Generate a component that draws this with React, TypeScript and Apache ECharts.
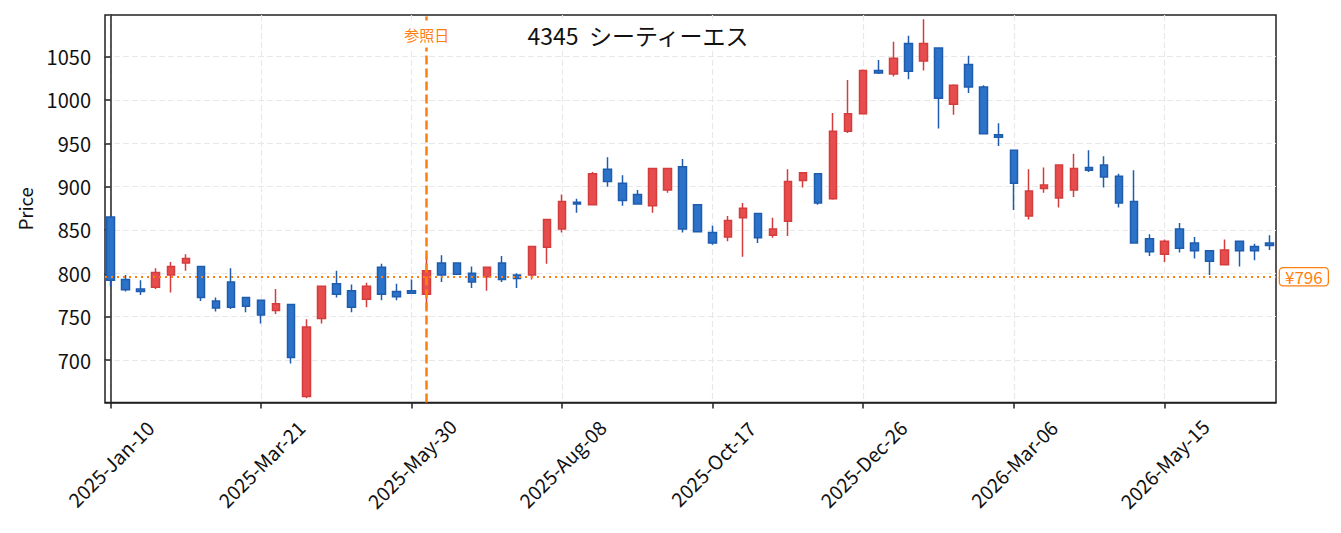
import React, { useEffect, useRef } from "react";
import * as echarts from "echarts";

const FONT = "'Noto Sans CJK JP', 'Noto Sans', sans-serif";

const chartTitle = "4345  シーティーエス";
const refLabel = "参照日";
const refIndex = 21;
const refPrice = 796;

const tickIndex = [0, 10, 20, 30, 40, 50, 60, 70];
const tickLabels = [
  "2025-Jan-10",
  "2025-Mar-21",
  "2025-May-30",
  "2025-Aug-08",
  "2025-Oct-17",
  "2025-Dec-26",
  "2026-Mar-06",
  "2026-May-15",
];
const priceTicks = [700, 750, 800, 850, 900, 950, 1000, 1050];

const opens = [
  865, 793, 782, 784, 798, 812, 808, 768, 790, 772,
  769, 757, 764, 658, 748, 788, 780, 770, 807, 779,
  780, 776, 812, 812, 800, 796, 812, 798, 798, 830,
  851, 882, 879, 920, 904, 891, 878, 896, 923, 879,
  847, 842, 864, 869, 844, 860, 907, 915, 886, 964,
  984, 1034, 1030, 1065, 1045, 1060, 995, 1041, 1015, 960,
  942, 866, 898, 887, 896, 922, 925, 912, 883, 840,
  822, 851, 835, 826, 810, 837, 831, 835,
];
const closes = [
  792, 781, 779, 801, 808, 817, 772, 760, 761, 762,
  752, 765, 703, 738, 785, 776, 761, 785, 776, 773,
  777, 803, 798, 799, 790, 807, 793, 794, 831, 862,
  883, 880, 915, 906, 884, 880, 921, 921, 851, 848,
  835, 861, 875, 841, 851, 906, 916, 881, 964, 984,
  1034, 1031, 1048, 1033, 1065, 1002, 1017, 1015, 961, 957,
  904, 895, 902, 925, 921, 919, 911, 881, 835, 825,
  837, 829, 826, 814, 827, 826, 826, 832,
];
const lows = [
  785, 779, 775, 782, 778, 803, 768, 756, 759, 755,
  742, 753, 696, 656, 742, 772, 755, 761, 769, 769,
  777, 758, 790, 799, 783, 780, 790, 783, 793, 811,
  847, 870, 879, 900, 878, 880, 870, 893, 847, 848,
  833, 837, 819, 835, 841, 843, 899, 879, 885, 962,
  984, 1030, 1027, 1024, 1034, 967, 983, 1008, 961, 947,
  873, 862, 893, 876, 888, 917, 899, 876, 835, 820,
  813, 824, 817, 798, 810, 808, 815, 827,
];
const highs = [
  865, 798, 792, 806, 813, 822, 808, 772, 806, 772,
  769, 782, 764, 747, 785, 803, 787, 789, 811, 788,
  793, 820, 821, 812, 808, 808, 820, 800, 831, 862,
  891, 886, 917, 934, 913, 896, 921, 921, 932, 879,
  855, 866, 881, 869, 864, 920, 916, 915, 985, 1023,
  1035, 1046, 1067, 1074, 1093, 1060, 1018, 1051, 1017, 973,
  942, 920, 922, 925, 938, 942, 935, 915, 919, 845,
  839, 858, 842, 826, 839, 837, 834, 844,
];

const ORANGE = "#ff7f0e";

export default function App() {
  const ref = useRef<HTMLDivElement>(null);

  useEffect(() => {
    if (!ref.current) return;
    const chart = echarts.init(ref.current, null, { renderer: "svg" });
    const data = opens.map((o, i) => [i, o, closes[i], lows[i], highs[i]]);

    chart.setOption({
      animation: false,
      backgroundColor: "#ffffff",
      textStyle: { fontFamily: FONT },
      title: {
        text: chartTitle,
        left: 632,
        top: 19,
        textAlign: "center",
        backgroundColor: "#ffffff",
        padding: [4, 6],
        textStyle: {
          fontFamily: FONT,
          fontSize: 23,
          fontWeight: "normal",
          color: "#111111",
        },
      },
      grid: {
        left: 105,
        right: 65,
        top: 15,
        bottom: 130.5,
        show: true,
        borderColor: "#222222",
        borderWidth: 1.5,
        backgroundColor: "transparent",
      },
      xAxis: {
        type: "value",
        min: -0.37,
        max: 77.42,
        minInterval: 10,
        maxInterval: 10,
        axisLine: { show: true, onZero: false, lineStyle: { color: "#222222", width: 1.5 } },
        axisTick: {
          show: true,
          length: 6,
          customValues: tickIndex,
          lineStyle: { color: "#222222", width: 1.5 },
        },
        axisLabel: {
          customValues: tickIndex,
          formatter: (v: number) => {
            const r = Math.round(v);
            const k = tickIndex.indexOf(r);
            return Math.abs(v - r) < 1e-6 && k >= 0 ? tickLabels[k] : "";
          },
          rotate: 45,
          align: "center",
          verticalAlign: "middle",
          margin: 61,
          fontSize: 19.5,
          color: "#111111",
          fontFamily: FONT,
        },
        splitLine: {
          show: true,
          lineStyle: { color: "#e8e8e8", type: [6, 3], width: 1.2 },
        },
      },
      yAxis: {
        type: "value",
        min: 651,
        max: 1098,
        minInterval: 50,
        maxInterval: 50,
        name: "Price",
        nameLocation: "middle",
        nameGap: 71,
        nameTextStyle: { fontSize: 18.5, color: "#111111", fontFamily: FONT },
        axisLine: { show: true, lineStyle: { color: "#222222", width: 1.5 } },
        axisTick: {
          show: true,
          length: 6,
          customValues: priceTicks,
          lineStyle: { color: "#222222", width: 1.5 },
        },
        axisLabel: {
          customValues: priceTicks,
          formatter: (v: number) => (v % 50 === 0 ? String(v) : ""),
          margin: 14,
          fontSize: 20,
          color: "#111111",
          fontFamily: FONT,
        },
        splitLine: {
          show: true,
          lineStyle: { color: "#e8e8e8", type: [6, 3], width: 1.2 },
        },
      },
      series: [
        {
          type: "candlestick",
          data,
          encode: { x: 0, y: [1, 2, 3, 4] },
          barWidth: 8,
          itemStyle: {
            color: "#e84d4d",
            color0: "#2c72c9",
            borderColor: "#d43d3d",
            borderColor0: "#1f5cae",
            borderWidth: 1.5,
          },
          markLine: {
            silent: true,
            symbol: ["none", "none"],
            animation: false,
            data: [
              {
                yAxis: refPrice,
                lineStyle: { color: ORANGE, type: [2, 4], width: 2 },
                label: {
                  show: true,
                  position: "end",
                  formatter: "¥" + refPrice,
                  color: ORANGE,
                  fontSize: 17,
                  fontFamily: FONT,
                  backgroundColor: "#ffffff",
                  borderColor: ORANGE,
                  borderWidth: 1.3,
                  borderRadius: 3,
                  padding: [0, 5],
                  distance: 4,
                },
              },
              {
                xAxis: refIndex,
                lineStyle: { color: ORANGE, type: [9, 4], width: 2.5 },
                label: { show: false },
              },
            ],
          },
        },
      ],
    });

    const p = chart.convertToPixel({ gridIndex: 0 }, [refIndex, 1098]) as number[];
    if (p) {
      chart.setOption({
        graphic: [
          {
            type: "text",
            x: p[0],
            y: p[1] + 19,
            z: 100,
            style: {
              text: refLabel,
              fill: ORANGE,
              fontSize: 15,
              fontFamily: FONT,
              align: "center",
              verticalAlign: "middle",
              backgroundColor: "#ffffff",
              padding: [6, 1],
            },
          },
        ],
      });
    }

    return () => chart.dispose();
  }, []);

  return (
    <div
      ref={ref}
      style={{ position: "fixed", left: 0, top: 0, width: 1341, height: 533, background: "#fff" }}
    />
  );
}
